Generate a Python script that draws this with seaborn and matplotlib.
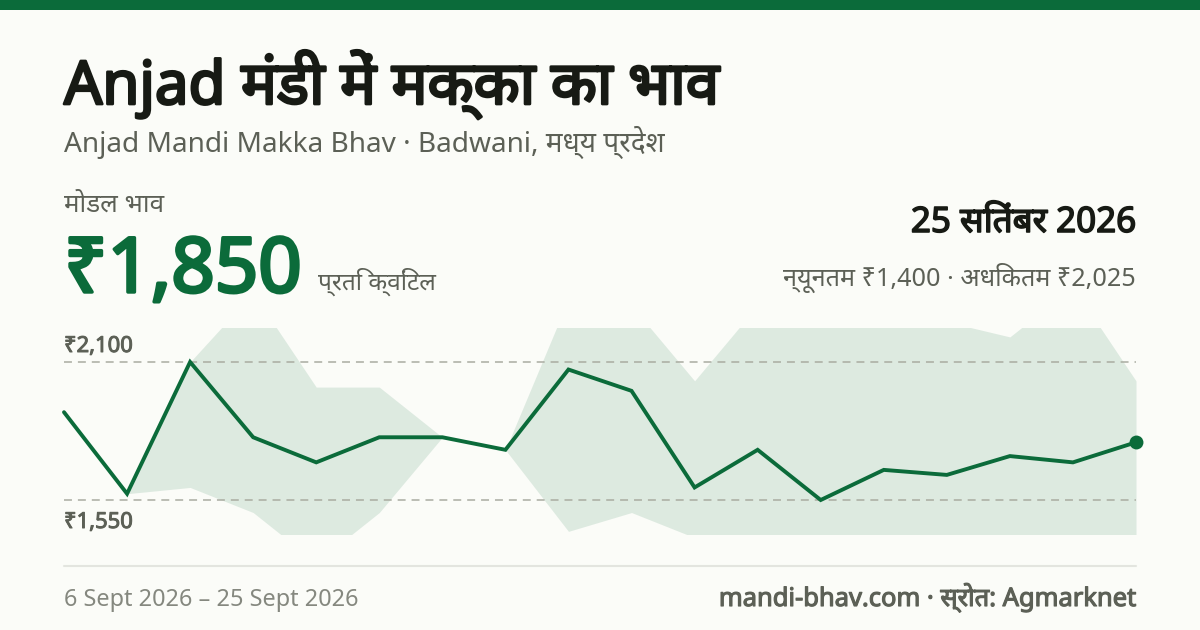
import matplotlib
matplotlib.use("Agg")
import matplotlib.pyplot as plt
import matplotlib.patheffects as pe
import pandas as pd
import seaborn as sns

GREEN = "#0b6b3a"
BG = "#fbfcf8"
INK = "#171a14"
MUTED = "#5c6056"
FAINT = "#85887f"

# one point per market day
days = list(range(18))
modal = [1900, 1575, 2100, 1800, 1700, 1800, 1800, 1750, 2070, 1985,
         1600, 1750, 1550, 1670, 1650, 1725, 1700, 1780]
price_max = [1900, 1575, 2100, 2375, 2000, 2000, 1800, 1750, 2350, 2325,
             2025, 2325, 2300, 2300, 2260, 2200, 2400, 2025]
price_min = [1900, 1575, 1600, 1500, 1300, 1500, 1800, 1750, 1425, 1500,
             1400, 1400, 1400, 1400, 1400, 1400, 1400, 1400]
ref_prices = [1550, 2100]
ref_labels = ["₹1,550", "₹2,100"]

FONTS = ["Noto Sans", "Noto Sans Devanagari", "DejaVu Sans"]

sns.set_theme(style="white")
plt.rcParams["font.family"] = FONTS

W, H = 1200, 630
fig = plt.figure(figsize=(W / 100, H / 100), dpi=100, facecolor=BG)
ax = fig.add_axes([64 / W, 1 - 534 / H, 1072 / W, 206 / H], facecolor="none")


def fake_bold(size, color):
    # the installed Noto Sans has one weight only, so thicken it with a stroke
    return [pe.withStroke(linewidth=size * 0.045, foreground=color)]


def label(x, y, s, px, color=INK, bold=False, ha="left"):
    # x, y in picture pixels, y is the text baseline
    size = px * 0.72
    t = fig.text(x / W, 1 - y / H, s, fontsize=size, color=color, ha=ha, va="baseline")
    if bold:
        t.set_path_effects(fake_bold(size, color))


df = pd.DataFrame({"day": days, "modal": modal})
ax.fill_between(days, price_min, price_max, color=GREEN, alpha=0.12, lw=0)
sns.lineplot(data=df, x="day", y="modal", ax=ax, color=GREEN, linewidth=2.8, zorder=3,
             clip_on=False, solid_capstyle="round", solid_joinstyle="miter")
ax.plot(days[-1], modal[-1], "o", color=GREEN, ms=10, mew=0, clip_on=False, zorder=4)

ax.set_xlim(days[0], days[-1])
ax.set_ylim(1414.5, 2235.5)
ax.set_yticks(ref_prices)
ax.set_xticks([])
ax.tick_params(left=False, labelleft=False)
ax.grid(axis="y", color="#a9aca1", lw=1.1, dashes=(5.2, 3.9))
ax.set_axisbelow(False)
ax.set(xlabel="", ylabel="")
sns.despine(ax=ax, left=True, bottom=True)

# reference labels sit just above the top line and just below the bottom line
for price, text, off in zip(ref_prices, ref_labels, (-28, 10)):
    ax.annotate(text, (0, price), xytext=(0, off), textcoords="offset pixels",
                xycoords=("axes fraction", "data"), fontsize=22 * 0.72, color=MUTED,
                va="baseline", ha="left", path_effects=fake_bold(22 * 0.72, MUTED))

# header and footer
fig.add_artist(plt.Rectangle((0, 1 - 10 / H), 1, 10 / H, color=GREEN, lw=0))
fig.add_artist(plt.Line2D([64 / W, 1136 / W], [1 - 566 / H] * 2, color="#e3e5df", lw=1.5))

label(64, 104, "Anjad मंडी में मक्का का भाव", 60, bold=True)
label(64, 152, "Anjad Mandi Makka Bhav · Badwani, मध्य प्रदेश", 28, MUTED)
label(64, 212, "मोडल भाव", 26, MUTED)
label(64, 292, "₹1,850", 76, GREEN, bold=True)
label(318, 290, "प्रति क्विंटल", 24.5, MUTED)
label(1136, 232, "25 सितंबर 2026", 35, INK, True, "right")
label(1136, 286, "न्यूनतम ₹1,400 · अधिकतम ₹2,025", 25.2, MUTED, ha="right")
label(64, 606, "6 Sept 2026 – 25 Sept 2026", 23.5, FAINT)
label(1136, 606, "mandi-bhav.com · स्रोत: Agmarknet", 25.5, MUTED, True, "right")

fig.savefig("out.png", dpi=100, facecolor=BG)
